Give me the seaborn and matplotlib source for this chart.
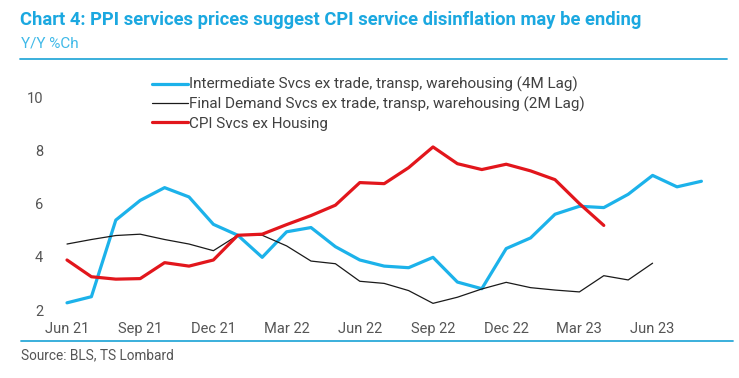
import numpy as np
import pandas as pd
import matplotlib
matplotlib.use("Agg")
import matplotlib.pyplot as plt
import seaborn as sns
from matplotlib.lines import Line2D

months = ["Jun 21","Jul 21","Aug 21","Sep 21","Oct 21","Nov 21","Dec 21","Jan 22","Feb 22",
          "Mar 22","Apr 22","May 22","Jun 22","Jul 22","Aug 22","Sep 22","Oct 22","Nov 22",
          "Dec 22","Jan 23","Feb 23","Mar 23","Apr 23","May 23","Jun 23","Jul 23","Aug 23"]

intermediate = [2.27, 2.5, 5.38, 6.12, 6.6, 6.25, 5.22, 4.81, 3.98, 4.94, 5.1, 4.38, 3.88,
                3.65, 3.59, 3.98, 3.05, 2.8, 4.31, 4.71, 5.6, 5.9, 5.85, 6.35, 7.06, 6.63, 6.84]
final_demand = [4.48, 4.65, 4.8, 4.85, 4.65, 4.48, 4.23, 4.81, 4.81, 4.41, 3.84, 3.74, 3.08,
                3.0, 2.73, 2.25, 2.48, 2.79, 3.04, 2.84, 2.75, 2.68, 3.29, 3.13, 3.76,
                np.nan, np.nan]
cpi = [3.88, 3.25, 3.16, 3.18, 3.78, 3.65, 3.88, 4.81, 4.85, 5.21, 5.55, 5.94, 6.79,
       6.75, 7.35, 8.13, 7.5, 7.28, 7.48, 7.23, 6.9, 6.0, 5.18,
       np.nan, np.nan, np.nan, np.nan]

tick_labels = ["Jun 21","Sep 21","Dec 21","Mar 22","Jun 22","Sep 22","Dec 22","Mar 23","Jun 23"]
y_ticks = [2, 4, 6, 8, 10]

names = ["Intermediate Svcs ex trade, transp, warehousing (4M Lag)",
         "Final Demand Svcs ex trade, transp, warehousing (2M Lag)",
         "CPI Svcs ex Housing"]

sns.set_theme(style="white")
plt.rcParams['font.family'] = ['Roboto', 'DejaVu Sans']

W, H = 739, 378
fig = plt.figure(figsize=(W/100, H/100), dpi=100)

left_px, right_px, top_px, bot_px = 50, 730, 65, 318
ax = fig.add_axes([left_px/W, 1 - bot_px/H, (right_px-left_px)/W, (bot_px-top_px)/H])

idx = np.arange(len(months))
df = pd.DataFrame({"idx": idx, "inter": intermediate, "final": final_demand, "cpi": cpi})

blue = "#1CB2EA"
red = "#E2161C"
black = "#1a1a1a"

sns.lineplot(data=df, x="idx", y="inter", ax=ax, color=blue, linewidth=2.3)
sns.lineplot(data=df, x="idx", y="final", ax=ax, color=black, linewidth=0.9)
sns.lineplot(data=df, x="idx", y="cpi", ax=ax, color=red, linewidth=2.3)

x0 = (left_px - 67) / 24.4
x1 = (right_px - 67) / 24.4
ax.set_xlim(x0, x1)
ylo = 2 - (bot_px - 310) / 26.6
yhi = 2 + (310 - top_px) / 26.6
ax.set_ylim(ylo, yhi)

ax.set_xticks([months.index(t) for t in tick_labels])
ax.set_xticklabels(tick_labels)
ax.set_yticks(y_ticks)
ax.set_yticklabels([str(v) for v in y_ticks])
ax.set_xlabel("")
ax.set_ylabel("")
for s in ax.spines.values():
    s.set_visible(False)
ax.tick_params(axis="both", length=0, labelsize=10.5, colors="#555555")
ax.tick_params(axis="x", pad=3)
ax.tick_params(axis="y", pad=5)
ax.grid(False)

handles = [Line2D([0], [0], color=blue, lw=2.3),
           Line2D([0], [0], color=black, lw=0.9),
           Line2D([0], [0], color=red, lw=2.3)]
leg = fig.legend(handles, names, loc="upper left", bbox_to_anchor=(152/W, 1 - 77/H),
                 frameon=False, fontsize=11, handlelength=2.35, handletextpad=0.08,
                 labelspacing=0.3, borderaxespad=0, borderpad=0)
for t in leg.get_texts():
    t.set_color("#404040")

fig.text(20/W, 1 - 20/H, "Chart 4: PPI services prices suggest CPI service disinflation may be ending",
         fontsize=13.2, fontweight="bold", color="#1BA8E0", va="center", ha="left")
fig.text(21/W, 1 - 43/H, "Y/Y %Ch", fontsize=11, color="#3FB9E8", va="center", ha="left")
fig.add_artist(Line2D([20/W, 727/W], [1 - 58.5/H, 1 - 58.5/H], color="#2BA9D9", lw=1.3,
                      transform=fig.transFigure, zorder=5))
fig.add_artist(Line2D([21/W, 733/W], [1 - 340.5/H, 1 - 340.5/H], color="#2BA9D9", lw=1.3,
                      transform=fig.transFigure, zorder=5))
fig.text(21/W, 1 - 355/H, "Source: BLS, TS Lombard", fontsize=9.8, color="#555555",
         va="center", ha="left")

fig.savefig("out.png", dpi=100)
